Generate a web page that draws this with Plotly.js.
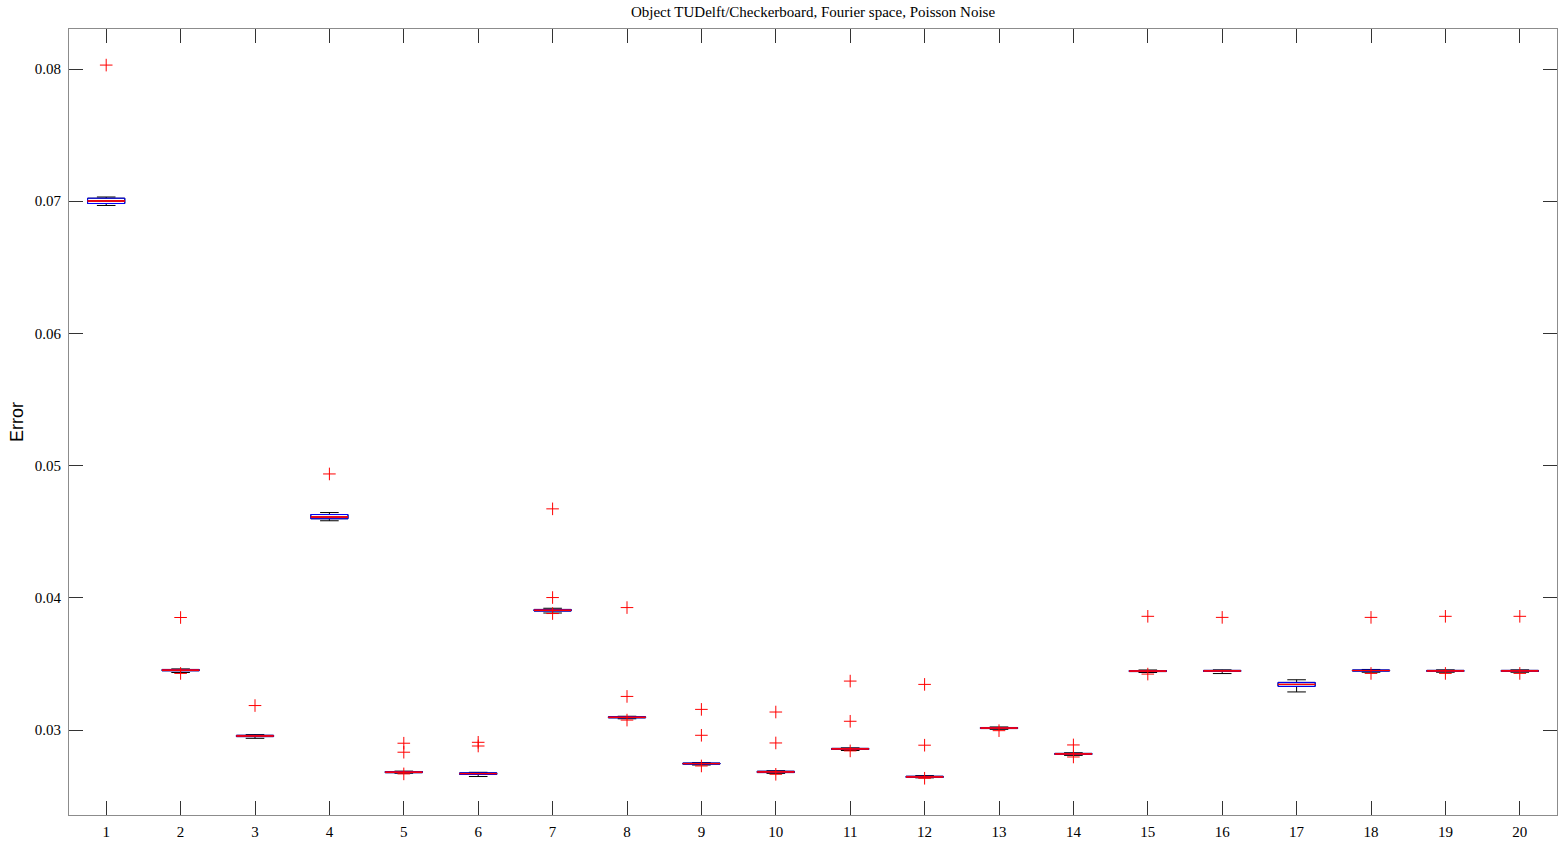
<!DOCTYPE html>
<html>
<head>
<meta charset="utf-8">
<script src="https://cdn.plot.ly/plotly-3.0.1.min.js"></script>
<style>
  html, body { margin: 0; padding: 0; background: #fff; }
  #chart { width: 1568px; height: 844px; }
</style>
</head>
<body>
<div id="chart"></div>
<script>
// group index 1..20
var groups = [1,2,3,4,5,6,7,8,9,10,11,12,13,14,15,16,17,18,19,20];

// box statistics
var lowerWhisker = [0.06968,0.03435,0.02937,0.04583,0.02673,0.02648,0.03885,0.03085,0.02735,0.02672,
                    0.02845,0.02638,0.03005,0.02808,0.03435,0.03427,0.03288,0.03437,0.03437,0.03437];
var q1 =           [0.06983,0.03448,0.02950,0.04598,0.02677,0.02664,0.03900,0.03092,0.02742,0.02678,
                    0.02853,0.02641,0.03011,0.02815,0.03442,0.03443,0.03330,0.03446,0.03443,0.03443];
var medians =      [0.07002,0.03453,0.02955,0.04611,0.02681,0.02670,0.03906,0.03096,0.02746,0.02683,
                    0.02857,0.02645,0.03015,0.02819,0.03446,0.03447,0.03345,0.03450,0.03447,0.03447];
var q3 =           [0.07023,0.03458,0.02960,0.04630,0.02686,0.02676,0.03912,0.03100,0.02750,0.02688,
                    0.02861,0.02650,0.03019,0.02823,0.03450,0.03451,0.03360,0.03454,0.03451,0.03451];
var upperWhisker = [0.07032,0.03462,0.02965,0.04645,0.02689,0.02680,0.03921,0.03104,0.02753,0.02692,
                    0.02865,0.02655,0.03023,0.02828,0.03454,0.03455,0.03380,0.03458,0.03455,0.03455];

// outliers per group
var outliers = [
  [0.08030],
  [0.03851, 0.03428],
  [0.03185],
  [0.04937],
  [0.02900, 0.02832, 0.02668],
  [0.02907, 0.02879],
  [0.04673, 0.04002, 0.03881],
  [0.03926, 0.03254, 0.03075],
  [0.03156, 0.02960, 0.02728],
  [0.03136, 0.02902, 0.02665],
  [0.03370, 0.03066, 0.02842],
  [0.03345, 0.02885, 0.02635],
  [0.02995],
  [0.02887, 0.02796],
  [0.03860, 0.03423],
  [0.03852],
  [],
  [0.03852, 0.03428],
  [0.03860, 0.03428],
  [0.03860, 0.03428]
];

var outX = [], outY = [];
for (var i = 0; i < outliers.length; i++) {
  for (var j = 0; j < outliers[i].length; j++) {
    outX.push(groups[i]);
    outY.push(outliers[i][j]);
  }
}

// black whiskers
var whiskers = {
  type: 'box',
  x: groups,
  q1: q1, median: medians, q3: q3,
  lowerfence: lowerWhisker, upperfence: upperWhisker,
  width: 0.5,
  whiskerwidth: 0.5,
  line: {color: '#000000', width: 1},
  fillcolor: 'rgba(0,0,0,0)',
  boxpoints: false,
  hoverinfo: 'skip',
  showlegend: false
};

// blue boxes
var boxes = {
  type: 'box',
  x: groups,
  q1: q1, median: medians, q3: q3,
  lowerfence: q1, upperfence: q3,
  width: 0.5,
  whiskerwidth: 0,
  line: {color: '#0000ff', width: 1},
  fillcolor: 'rgba(0,0,0,0)',
  boxpoints: false,
  hoverinfo: 'skip',
  showlegend: false
};

// red medians
var meds = {
  type: 'box',
  x: groups,
  q1: medians, median: medians, q3: medians,
  lowerfence: medians, upperfence: medians,
  width: 0.5,
  whiskerwidth: 0,
  line: {color: '#ff0000', width: 1},
  fillcolor: 'rgba(0,0,0,0)',
  boxpoints: false,
  hoverinfo: 'skip',
  showlegend: false
};

var outs = {
  type: 'scatter',
  mode: 'markers',
  x: outX,
  y: outY,
  marker: {symbol: 'cross-thin-open', size: 9, color: '#ff0000', line: {color: '#ff0000', width: 1}},
  showlegend: false
};

var layout = {
  width: 1568,
  height: 844,
  margin: {l: 69, r: 11, t: 29, b: 29},
  paper_bgcolor: '#ffffff',
  plot_bgcolor: '#ffffff',
  boxmode: 'overlay',
  showlegend: false,
  title: {
    text: 'Object TUDelft/Checkerboard, Fourier space, Poisson Noise',
    font: {family: 'Liberation Serif', size: 15, color: '#000'},
    x: 0.5185, xanchor: 'center', y: 0.986, yanchor: 'middle'
  },
  xaxis: {
    range: [0.5, 20.5],
    tickvals: groups,
    ticktext: groups.map(String),
    ticks: 'inside', ticklen: 14, tickcolor: '#333',
    ticklabelstandoff: 3,
    showline: true, linecolor: '#8c8c8c', linewidth: 1, mirror: 'ticks',
    showgrid: false, zeroline: false,
    tickfont: {family: 'Liberation Serif', size: 15, color: '#000'}
  },
  yaxis: {
    range: [0.02357, 0.08303],
    tickvals: [0.03, 0.04, 0.05, 0.06, 0.07, 0.08],
    tickformat: '.2f',
    ticks: 'inside', ticklen: 14, tickcolor: '#333',
    ticklabelstandoff: 4,
    showline: true, linecolor: '#8c8c8c', linewidth: 1, mirror: 'ticks',
    showgrid: false, zeroline: false,
    tickfont: {family: 'Liberation Serif', size: 15, color: '#000'},
    title: {text: 'Error', font: {family: 'Liberation Sans', size: 18, color: '#000'}, standoff: 6}
  }
};

Plotly.newPlot('chart', [whiskers, boxes, meds, outs], layout, {displayModeBar: false, staticPlot: true});
</script>
</body>
</html>
